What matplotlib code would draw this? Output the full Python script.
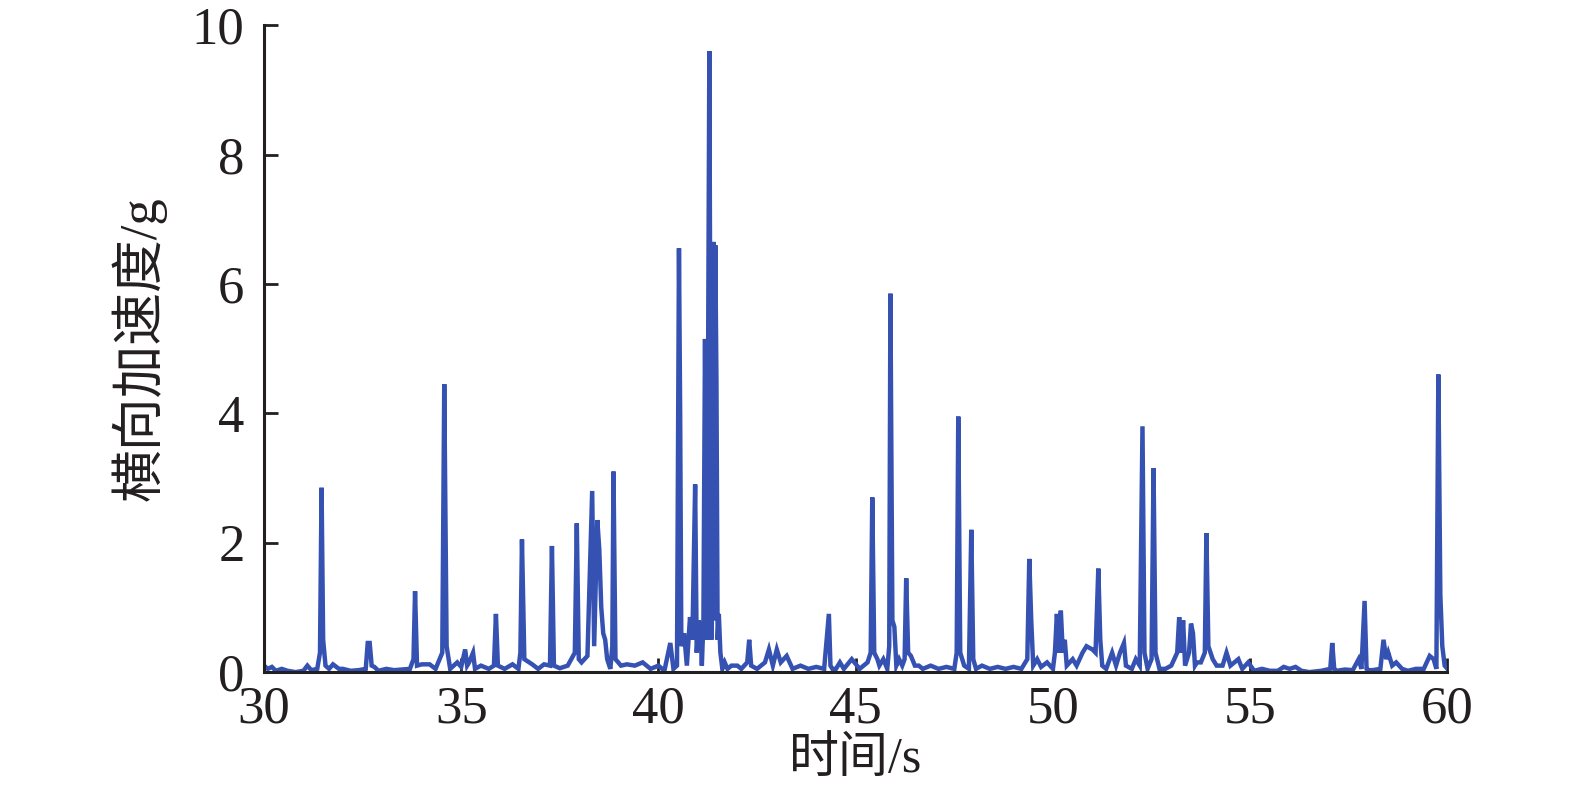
import matplotlib
matplotlib.use("Agg")
import matplotlib.pyplot as plt

# time (s) and lateral acceleration (g)
t = [30.0, 30.1, 30.2, 30.3, 30.45, 30.6, 30.8, 31.0, 31.1, 31.2, 31.35, 31.42, 31.46, 31.5, 31.56,
     31.65, 31.75, 31.9, 32.0, 32.2, 32.4, 32.58, 32.63, 32.68, 32.73, 32.8, 32.9, 33.1, 33.3, 33.5,
     33.7, 33.79, 33.83, 33.88, 34.0, 34.2, 34.35, 34.52, 34.57, 34.63, 34.72, 34.9, 35.0, 35.1, 35.15,
     35.2, 35.3, 35.35, 35.5, 35.7, 35.83, 35.88, 35.93, 36.1, 36.3, 36.45, 36.5, 36.54, 36.6, 36.8,
     36.95, 37.1, 37.25, 37.3, 37.35, 37.5, 37.7, 37.88, 37.93, 37.98, 38.05, 38.2, 38.32, 38.37, 38.45,
     38.5, 38.55, 38.6, 38.65, 38.7, 38.78, 38.83, 38.86, 38.91, 39.05, 39.2, 39.4, 39.6, 39.8, 40.0,
     40.15, 40.3, 40.38, 40.47, 40.52, 40.55, 40.58, 40.65, 40.72, 40.8, 40.86, 40.93, 40.97, 41.02,
     41.07, 41.1, 41.14, 41.18, 41.23, 41.29, 41.34, 41.39, 41.42, 41.44, 41.47, 41.5, 41.53, 41.57, 41.62,
     41.68, 41.75, 41.85, 42.0, 42.1, 42.25, 42.3, 42.35, 42.5, 42.7, 42.8, 42.9, 43.0, 43.1, 43.25,
     43.4, 43.6, 43.8, 44.0, 44.2, 44.32, 44.36, 44.41, 44.5, 44.6, 44.7, 44.9, 45.1, 45.3, 45.38,
     45.42, 45.47, 45.55, 45.6, 45.7, 45.8, 45.85, 45.88, 45.93, 45.98, 46.03, 46.1, 46.18, 46.24, 46.28,
     46.33, 46.4, 46.5, 46.6, 46.7, 46.9, 47.1, 47.3, 47.5, 47.56, 47.6, 47.65, 47.75, 47.87, 47.93,
     47.98, 48.05, 48.2, 48.4, 48.6, 48.8, 49.0, 49.2, 49.35, 49.4, 49.45, 49.5, 49.6, 49.7, 49.85,
     50.0, 50.05, 50.1, 50.15, 50.2, 50.25, 50.3, 50.35, 50.5, 50.6, 50.75, 50.85, 51.0, 51.08, 51.15,
     51.2, 51.25, 51.35, 51.5, 51.6, 51.7, 51.8, 51.85, 52.0, 52.1, 52.2, 52.27, 52.32, 52.4, 52.5,
     52.55, 52.6, 52.7, 52.85, 53.0, 53.15, 53.2, 53.25, 53.3, 53.35, 53.45, 53.5, 53.55, 53.6, 53.65,
     53.75, 53.85, 53.89, 53.94, 54.05, 54.15, 54.3, 54.4, 54.5, 54.7, 54.8, 54.95, 55.1, 55.3, 55.5,
     55.7, 55.85, 56.0, 56.15, 56.3, 56.5, 56.8, 57.03, 57.08, 57.13, 57.2, 57.4, 57.6, 57.75, 57.82,
     57.9, 57.95, 58.0, 58.1, 58.3, 58.38, 58.45, 58.5, 58.6, 58.7, 58.85, 59.0, 59.2, 59.4, 59.55,
     59.65, 59.72, 59.77, 59.82, 59.87, 59.93, 60.0]
acc = [0.1, 0.05, 0.08, 0.02, 0.05, 0.02, 0.0, 0.02, 0.1, 0.03, 0.05, 0.3, 2.85, 0.5, 0.1,
       0.05, 0.12, 0.05, 0.05, 0.02, 0.03, 0.05, 0.45, 0.45, 0.1, 0.08, 0.02, 0.05, 0.03, 0.04,
       0.05, 0.2, 1.25, 0.1, 0.12, 0.12, 0.05, 0.3, 4.45, 0.4, 0.05, 0.15, 0.08, 0.35, 0.1,
       0.15, 0.3, 0.05, 0.1, 0.05, 0.1, 0.9, 0.1, 0.05, 0.12, 0.05, 0.3, 2.05, 0.2, 0.12,
       0.05, 0.12, 0.1, 1.95, 0.1, 0.06, 0.1, 0.3, 2.3, 0.2, 0.15, 0.25, 2.8, 0.4, 2.35,
       1.9, 1.0, 0.6, 0.5, 0.2, 0.05, 0.4, 3.1, 0.2, 0.1, 0.12, 0.1, 0.15, 0.05, 0.1,
       0.02, 0.45, 0.05, 0.1, 6.55, 4.0, 0.4, 0.6, 0.1, 0.85, 0.5, 2.9, 0.3, 0.8,
       0.6, 0.1, 0.8, 5.15, 0.5, 9.6, 0.5, 6.65, 0.8, 6.6, 4.5, 0.5, 0.9, 0.3, 0.05,
       0.15, 0.05, 0.1, 0.1, 0.05, 0.15, 0.5, 0.1, 0.05, 0.15, 0.35, 0.1, 0.35, 0.15, 0.25,
       0.05, 0.1, 0.05, 0.08, 0.05, 0.9, 0.1, 0.05, 0.05, 0.15, 0.05, 0.2, 0.05, 0.15, 0.3,
       2.7, 0.3, 0.2, 0.1, 0.2, 0.05, 0.4, 5.85, 0.8, 0.7, 0.1, 0.2, 0.1, 0.2, 1.45,
       0.3, 0.25, 0.1, 0.1, 0.05, 0.1, 0.05, 0.08, 0.05, 0.3, 3.95, 0.3, 0.1, 0.05, 2.2,
       0.2, 0.05, 0.1, 0.05, 0.08, 0.05, 0.08, 0.05, 0.2, 1.75, 0.8, 0.1, 0.2, 0.08, 0.15,
       0.05, 0.3, 0.9, 0.3, 0.95, 0.3, 0.5, 0.1, 0.2, 0.1, 0.3, 0.4, 0.35, 0.3, 1.6,
       0.5, 0.1, 0.05, 0.3, 0.1, 0.3, 0.45, 0.1, 0.05, 0.2, 0.1, 3.8, 0.3, 0.05, 0.2,
       3.15, 0.3, 0.05, 0.05, 0.1, 0.3, 0.85, 0.3, 0.8, 0.1, 0.3, 0.75, 0.6, 0.1, 0.15,
       0.15, 0.3, 2.15, 0.4, 0.2, 0.1, 0.1, 0.3, 0.1, 0.2, 0.05, 0.15, 0.02, 0.05, 0.02,
       0.02, 0.08, 0.05, 0.08, 0.02, 0.0, 0.02, 0.05, 0.45, 0.05, 0.02, 0.04, 0.03, 0.2, 0.05,
       1.1, 0.05, 0.03, 0.03, 0.05, 0.5, 0.2, 0.3, 0.1, 0.15, 0.05, 0.02, 0.05, 0.05, 0.25,
       0.2, 0.05, 4.6, 1.2, 0.4, 0.1, 0.05]

x_ticks = [30, 35, 40, 45, 50, 55, 60]
y_ticks = [0, 2, 4, 6, 8, 10]

plt.rcParams['font.family'] = ['Liberation Serif', 'Noto Sans CJK SC']

fig = plt.figure(figsize=(15.75, 7.87), dpi=100)
ax = fig.add_axes([0.1676, 0.146, 0.7514, 0.822])

ax.plot(t, acc, color='#3552b2', linewidth=3.2, solid_joinstyle='miter')

ax.set_xlim(30, 60)
ax.set_ylim(0, 10)
ax.set_xticks(x_ticks)
ax.set_yticks(y_ticks)

ax.spines['top'].set_visible(False)
ax.spines['right'].set_visible(False)
for s in ['left', 'bottom']:
    ax.spines[s].set_linewidth(2.2)
    ax.spines[s].set_color('#231f20')

ax.tick_params(direction='in', length=10, width=2, color='#231f20',
               labelsize=38, labelcolor='#231f20')
ax.tick_params(axis='y', pad=14)
ax.tick_params(axis='x', pad=10)

ax.set_xlabel('时间/s', fontsize=36, color='#231f20', labelpad=2)
ax.set_ylabel('横向加速度/g', fontsize=38, color='#231f20', labelpad=18)

fig.savefig('out.png', dpi=100)
